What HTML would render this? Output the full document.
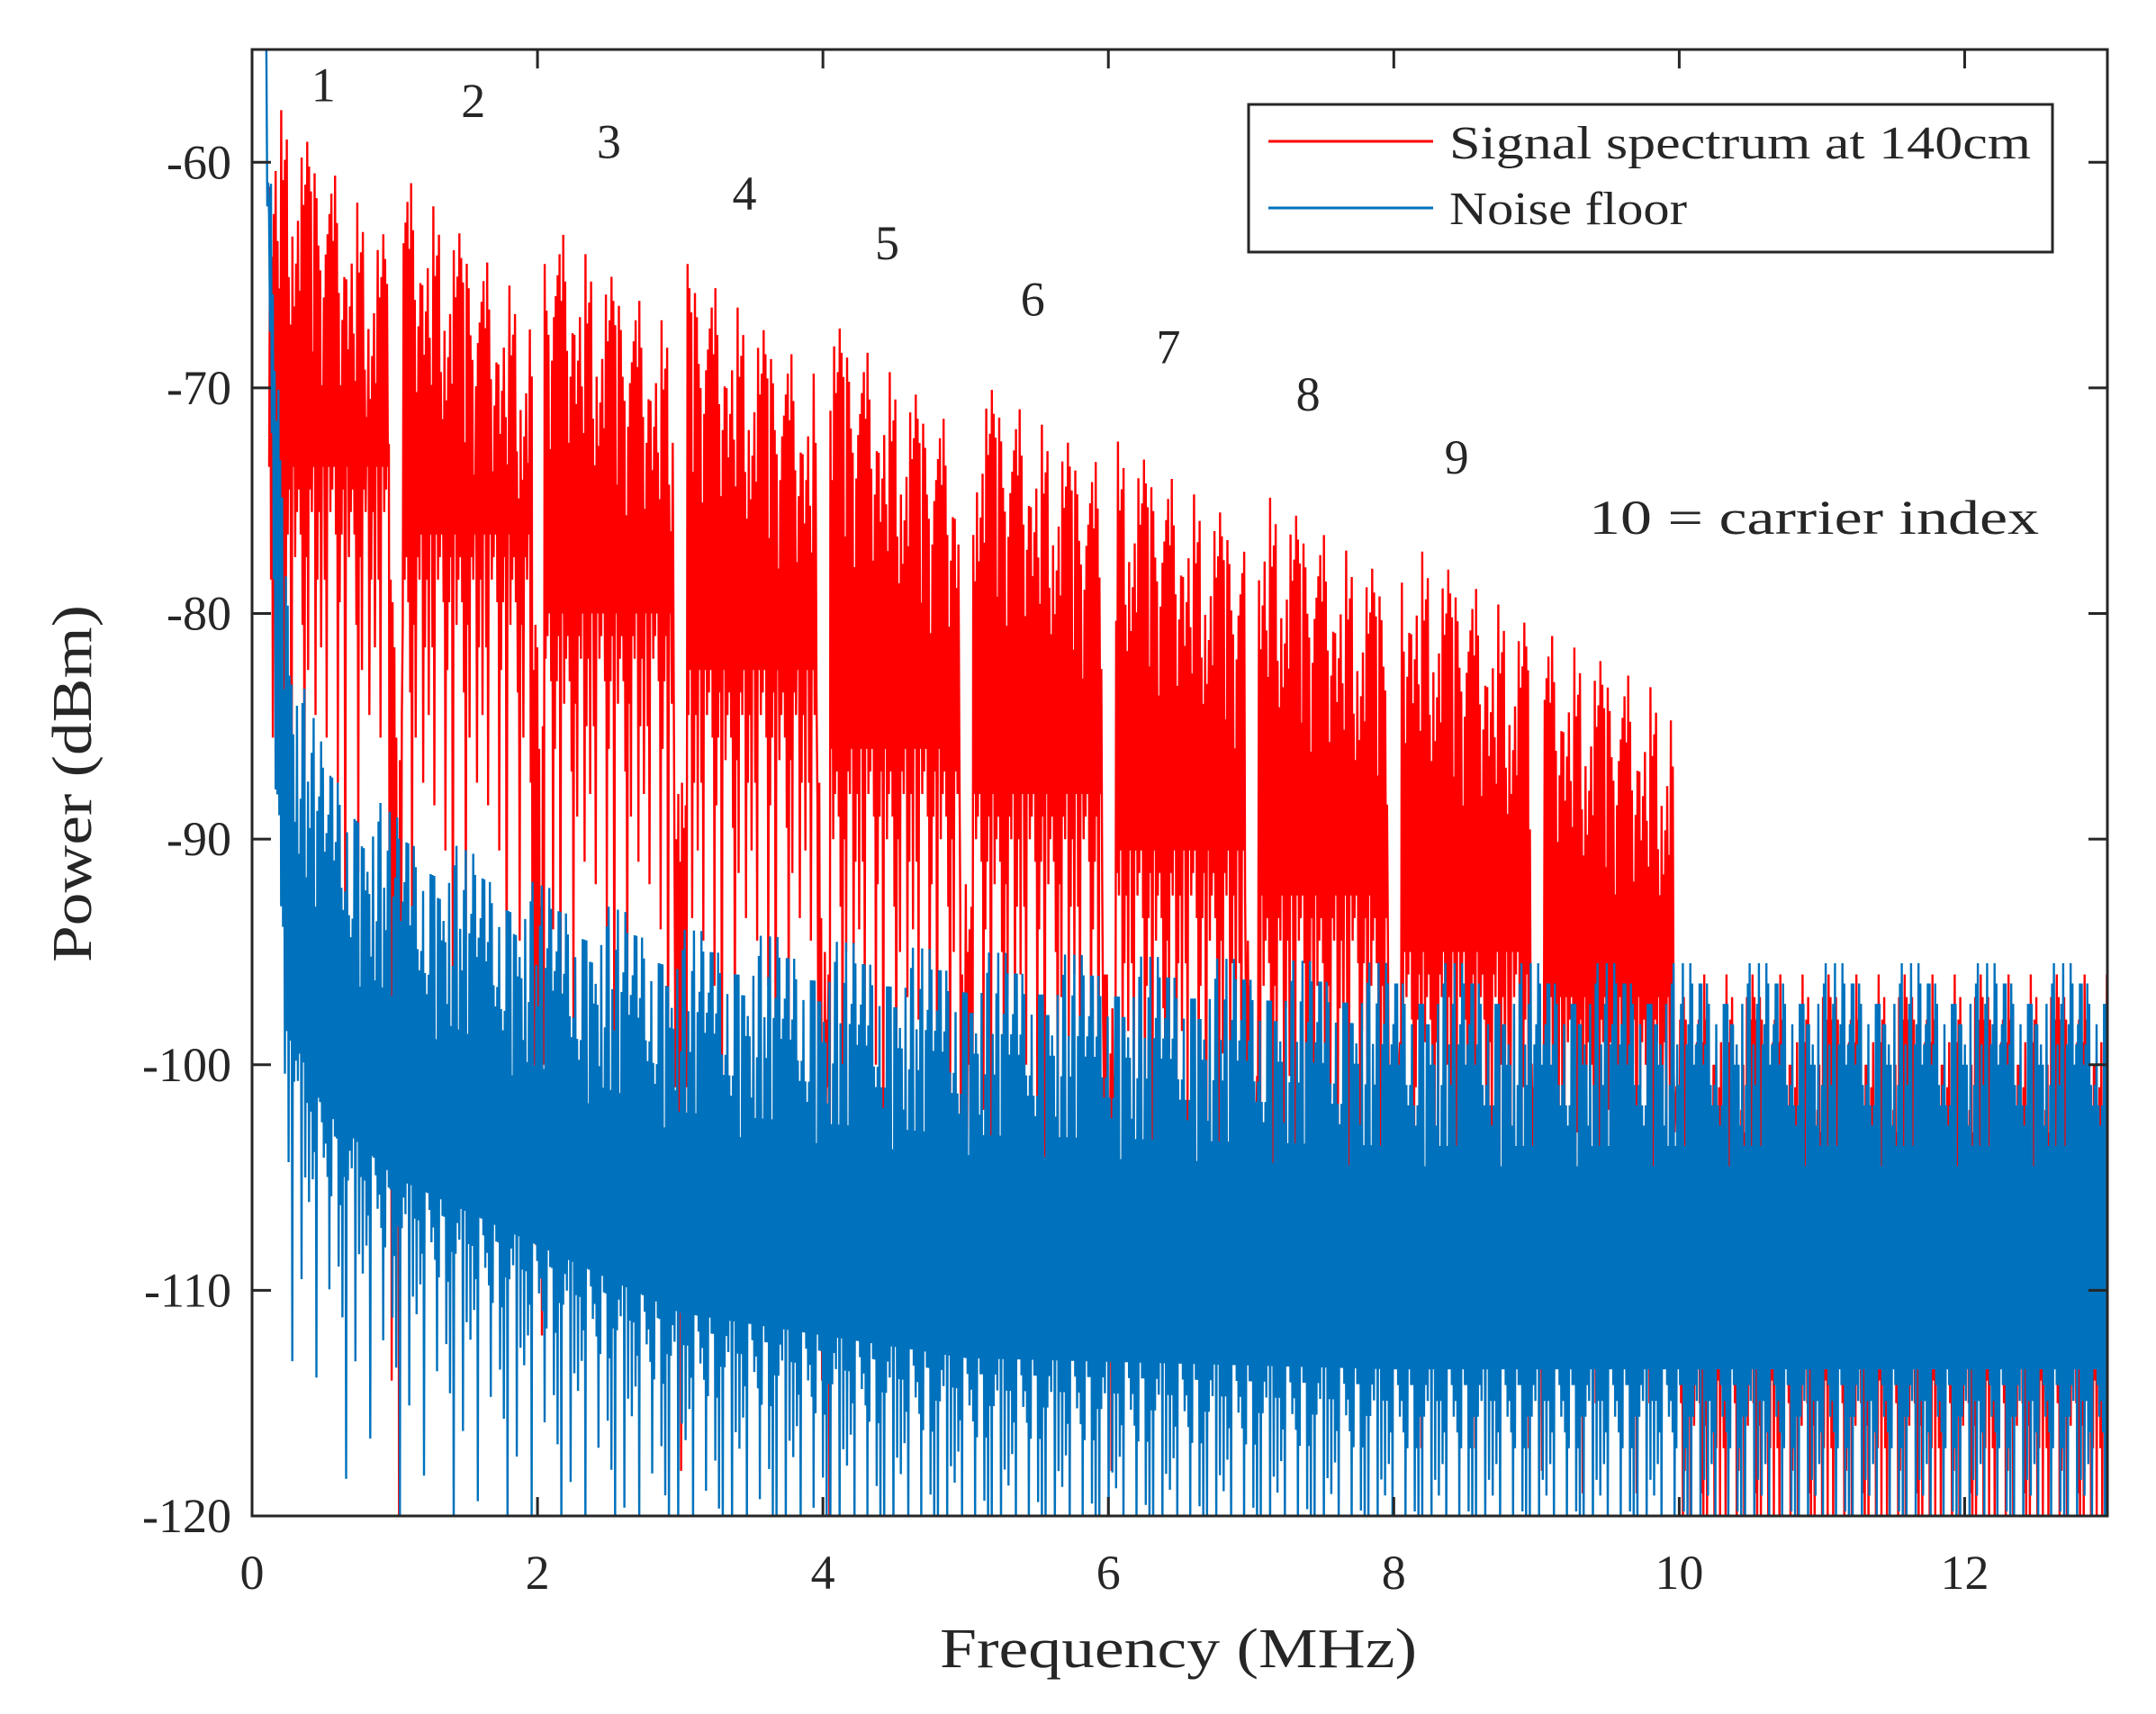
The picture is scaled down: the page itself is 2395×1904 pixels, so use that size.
<!DOCTYPE html>
<html><head><meta charset="utf-8"><style>
html,body{margin:0;padding:0;background:#fff;overflow:hidden;width:2395px;height:1904px;}
svg{display:block;overflow:hidden;}
text{font-family:"Liberation Serif","DejaVu Serif",serif;fill:#262626;}
</style></head><body>
<svg id="chart" width="2395" height="1904" viewBox="0 0 2395 1904" xmlns="http://www.w3.org/2000/svg">
<defs><clipPath id="clip"><rect x="280" y="55" width="2061" height="1629"/></clipPath></defs>
<rect width="2395" height="1904" fill="#fff"/>
<g id="series" clip-path="url(#clip)"></g>
<g id="axes"></g>
<g id="labels"></g>
<g>
  <rect x="1387" y="116" width="893" height="164" fill="#fff" stroke="#262626" stroke-width="3"/>
  <line x1="1409" y1="157" x2="1592" y2="157" stroke="#ff0000" stroke-width="3"/>
  <text x="1610" y="176" font-size="52" textLength="646" lengthAdjust="spacingAndGlyphs">Signal spectrum at 140cm</text>
  <line x1="1409" y1="231" x2="1592" y2="231" stroke="#0072bd" stroke-width="3"/>
  <text x="1610" y="249" font-size="52" textLength="264" lengthAdjust="spacingAndGlyphs">Noise floor</text>
</g>
<text x="1044" y="1852" font-size="62" textLength="530" lengthAdjust="spacingAndGlyphs">Frequency (MHz)</text>
<text transform="translate(101,1069) rotate(-90)" font-size="62" textLength="397" lengthAdjust="spacingAndGlyphs">Power (dBm)</text>
</svg>
<script>
// ---- data ----
const carriers = [1,2,3,4,5,6,7,8,9,10];
const carrierTop = [-56.5,-60.5,-62.5,-64.5,-67,-69.5,-72.3,-74.5,-76.6,-80.8];
const carrierDrop = [7,6,5,5,5,4,4,4,4,3];
const carrierFloor = [-73.5,-76.5,-80,-82.5,-86,-88,-90.5,-92.5,-95,-97];
const noiseFreq = [0.1,0.15,0.2,0.3,0.5,1,2,3,5,8,13];
const noiseTop = [-55,-60,-72,-82,-86,-89,-92,-94,-95,-95.5,-95.5];
const noiseBottom = [-55,-75,-92,-99,-102,-105,-108,-111,-113,-113.5,-113.5];
const topJitter = [0,4,1,7,2,5,9,3,1,6,2,8,4,0,5,3,10,2,6,1,4,7,3,9,2,5,1,8,3,6,0,4,2,7,5,1,9,3,6,2,4];
const lowJitter = [0,2,5,1,12,3,0,7,2,18,1,4,0,9,3,1,14,2,6,0,3,11,1,5,22,2,0,8,4];
const xTicks = [0,2,4,6,8,10,12];
const yTicks = [-120,-110,-100,-90,-80,-70,-60];
const labelText = ['1','2','3','4','5','6','7','8','9'];
const labelFreq = [0.5,1.55,2.5,3.45,4.45,5.47,6.42,7.4,8.44];
const labelDb = [-57.3,-58,-59.8,-62.1,-64.3,-66.8,-68.9,-71,-73.8];

// ---- axes ----
const L=280,R=2341,T=55,B=1684;
const clampDb=v=>Math.max(-121,Math.min(-54,v));
const xs=f=>L+(f/13)*(R-L);
const ys=v=>T+((-55-clampDb(v))/65)*(B-T);
const NS='http://www.w3.org/2000/svg';
function mk(tag,attrs,parent){const e=document.createElementNS(NS,tag);for(const k in attrs)e.setAttribute(k,attrs[k]);parent.appendChild(e);return e;}
function interp(xArr,yArr,x){if(x<=xArr[0])return yArr[0];for(let i=1;i<xArr.length;i++){if(x<=xArr[i]){const t=(x-xArr[i-1])/(xArr[i]-xArr[i-1]);return yArr[i-1]+t*(yArr[i]-yArr[i-1]);}}return yArr[yArr.length-1];}

const series=document.getElementById('series');
const step=0.0065;
// signal
let pts=[];let i=0;
for(let f=0.12;f<=13;f+=step,i++){
  let hi,lo;
  const k=Math.floor(f);const pos=f-k;
  if(k<10 && pos>0.05 && pos<0.96){
    const c=k;const frac=(pos-0.05)/0.91;
    hi=carrierTop[c]-carrierDrop[c]*frac-topJitter[i%topJitter.length];
    lo=carrierFloor[c]-lowJitter[i%lowJitter.length];
  } else if(k<10){
    hi=carrierFloor[Math.min(k,9)]-4-topJitter[i%topJitter.length];
    lo=-100-lowJitter[i%lowJitter.length];
  } else {
    hi=-96-topJitter[i%topJitter.length];
    lo=-112-lowJitter[i%lowJitter.length];
  }
  pts.push(xs(f).toFixed(1)+','+ys(i%2?hi:lo).toFixed(1));
}
const sig=mk('polyline',{points:pts.join(' '),fill:'none',stroke:'#ff0000','stroke-width':2.4},series);


// noise
pts=[];i=0;
for(let f=0.1;f<=13;f+=step,i++){
  const hi=interp(noiseFreq,noiseTop,f)-topJitter[(i*3)%topJitter.length]*0.9;
  const lo=interp(noiseFreq,noiseBottom,f)-lowJitter[(i*5)%lowJitter.length]*0.7;
  pts.push(xs(f).toFixed(1)+','+ys(i%2?hi:lo).toFixed(1));
}
const noi=mk('polyline',{points:pts.join(' '),fill:'none',stroke:'#0072bd','stroke-width':2.4},series);



// axes box & ticks
const axes=document.getElementById('axes');
const box=mk('rect',{x:L,y:T,width:R-L,height:B-T,fill:'none',stroke:'#262626','stroke-width':3},axes);


xTicks.forEach(v=>{
  const x=xs(v);
  mk('line',{x1:x,y1:B,x2:x,y2:B-21,stroke:'#262626','stroke-width':3},axes);
  mk('line',{x1:x,y1:T,x2:x,y2:T+21,stroke:'#262626','stroke-width':3},axes);
  const t=mk('text',{x:x,y:1765,'font-size':54,'text-anchor':'middle'},axes);
  t.textContent=v;
  
  
});
yTicks.forEach(v=>{
  const y=ys(v);
  mk('line',{x1:L,y1:y,x2:L+21,y2:y,stroke:'#262626','stroke-width':3},axes);
  mk('line',{x1:R,y1:y,x2:R-21,y2:y,stroke:'#262626','stroke-width':3},axes);
  const t=mk('text',{x:257,y:y+18,'font-size':54,'text-anchor':'end'},axes);
  t.textContent=v;
  
  
});
// carrier labels
const labels=document.getElementById('labels');
labelText.forEach((s,j)=>{
  const t=mk('text',{x:xs(labelFreq[j]),y:ys(labelDb[j]),'font-size':54,'text-anchor':'middle'},labels);
  t.textContent=s;
  
  
});
const idx=mk('text',{x:1765,y:593,'font-size':54,textLength:500,lengthAdjust:'spacingAndGlyphs'},labels);
idx.textContent='10 = carrier index';


</script>
</body></html>
